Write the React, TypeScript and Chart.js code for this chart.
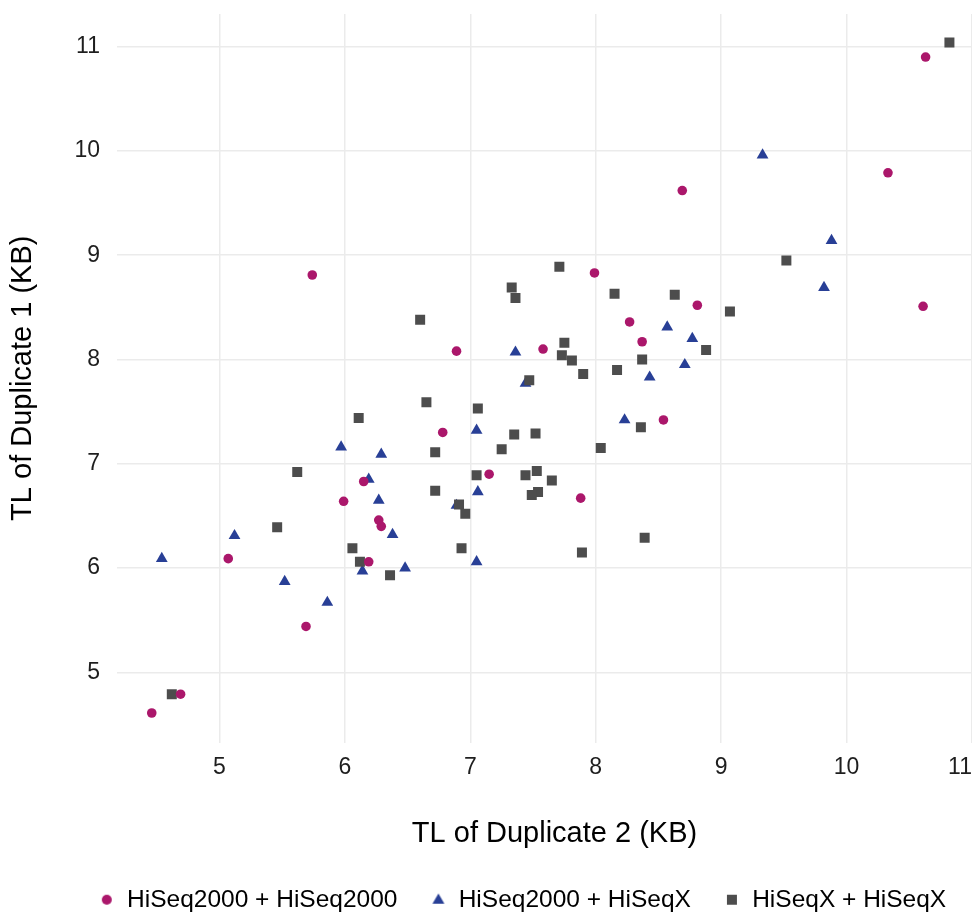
import React, { useEffect, useRef } from 'react';
import { Chart, registerables } from 'chart.js';

Chart.register(...registerables);

const SERIES_NAMES = ['HiSeq2000 + HiSeq2000', 'HiSeq2000 + HiSeqX', 'HiSeqX + HiSeqX'];
const X_TITLE = 'TL of Duplicate 2 (KB)';
const Y_TITLE = 'TL of Duplicate 1 (KB)';

const X_TICKS = [5, 6, 7, 8, 9, 10, 11];
const Y_TICKS = [5, 6, 7, 8, 9, 10, 11];
const X_MIN = 4.183;
const X_MAX = 11;
const Y_MIN = 4.327;
const Y_MAX = 11.313;

// HiSeq2000 + HiSeq2000 (circles)
const hs2000X = [10.63, 10.33, 8.69, 5.74, 7.99, 10.61, 8.81, 8.27, 8.37, 7.58, 6.89, 8.54, 6.78, 7.15, 7.88, 6.15, 5.99, 6.27, 6.29, 5.07, 6.19, 5.69, 4.69, 4.46];
const hs2000Y = [10.90, 9.79, 9.62, 8.81, 8.83, 8.51, 8.52, 8.36, 8.17, 8.10, 8.08, 7.42, 7.30, 6.90, 6.67, 6.83, 6.64, 6.46, 6.40, 6.09, 6.06, 5.44, 4.79, 4.61];

// HiSeq2000 + HiSeqX (triangles)
const mixedX = [9.33, 9.88, 9.82, 8.57, 8.77, 7.36, 8.71, 8.43, 7.44, 8.23, 7.05, 7.06, 7.05, 6.89, 6.27, 6.38, 5.12, 4.54, 6.48, 6.14, 5.52, 5.86, 5.97, 6.29, 6.19];
const mixedY = [9.96, 9.14, 8.69, 8.31, 8.20, 8.07, 7.95, 7.83, 7.77, 7.42, 7.32, 6.73, 6.06, 6.60, 6.65, 6.32, 6.31, 6.09, 6.00, 5.97, 5.87, 5.67, 7.16, 7.09, 6.85];

// HiSeqX + HiSeqX (squares)
const hsxX = [10.82, 9.52, 7.71, 7.33, 7.36, 8.15, 8.63, 9.07, 7.75, 7.73, 7.81, 8.37, 8.88, 7.90, 8.17, 7.47, 7.06, 7.35, 7.52, 7.25, 8.36, 8.04, 6.72, 7.05, 7.44, 7.53, 7.65, 7.54, 7.49, 6.91, 6.96, 8.39, 6.93, 7.89, 6.60, 6.65, 6.11, 5.62, 6.72, 5.46, 6.06, 6.12, 6.36, 4.62];
const hsxY = [11.04, 8.95, 8.89, 8.69, 8.59, 8.63, 8.62, 8.46, 8.16, 8.04, 7.99, 8.00, 8.09, 7.86, 7.90, 7.80, 7.53, 7.28, 7.29, 7.14, 7.35, 7.15, 7.11, 6.89, 6.89, 6.93, 6.84, 6.73, 6.70, 6.61, 6.52, 6.29, 6.19, 6.15, 8.38, 7.59, 7.44, 6.92, 6.74, 6.39, 6.19, 6.06, 5.93, 4.79];

const COLORS = ['#AB176B', '#283F96', '#4D4D4D'];
const POINT_STYLES = ['circle', 'triangle', 'rect'];
const POINT_RADII = [4.8, 6.8, 7.07];
const GRID = '#EBEBEB';
const FONT = "'Liberation Sans', Arial, Helvetica, sans-serif";

const toPoints = (xs: number[], ys: number[]) => xs.map((x, i) => ({ x, y: ys[i] }));

const zeroPad = (scale: any) => {
  scale.paddingTop = 0;
  scale.paddingBottom = 0;
  scale.paddingLeft = 0;
  scale.paddingRight = 0;
};

// small canvases used as legend markers, so each keeps its own size
const makeIcon = (i: number) => {
  const c = document.createElement('canvas');
  c.width = 16;
  c.height = 16;
  const ctx = c.getContext('2d') as CanvasRenderingContext2D;
  ctx.fillStyle = COLORS[i];
  ctx.beginPath();
  if (i === 0) {
    ctx.arc(8, 8, 5, 0, Math.PI * 2);
  } else if (i === 1) {
    const r = 6.9;
    for (let k = 0; k < 3; k++) {
      const a = (k * 2 * Math.PI) / 3;
      const px = 8 + Math.sin(a) * r;
      const py = 8.6 - Math.cos(a) * r;
      if (k === 0) ctx.moveTo(px, py);
      else ctx.lineTo(px, py);
    }
    ctx.closePath();
  } else {
    ctx.rect(3, 3, 10, 10);
  }
  ctx.fill();
  return c;
};

const legendShift = {
  id: 'legendShift',
  afterLayout(chart: any) {
    if (chart.legend) {
      chart.legend.left = 0;
      chart.legend.right = 1045;
    }
    const xs = chart.scales.x;
    if (xs) {
      xs.right = xs.right + 20;
    }
  },
};

export default function App() {
  const ref = useRef<HTMLCanvasElement | null>(null);

  useEffect(() => {
    document.body.style.margin = '0';
    const canvas = ref.current;
    if (!canvas) return;
    const icons = [0, 1, 2].map(makeIcon);
    const series = [
      [hs2000X, hs2000Y],
      [mixedX, mixedY],
      [hsxX, hsxY],
    ];
    const orders = [0, 2, 1];
    const chart = new Chart(canvas, {
      type: 'scatter',
      data: {
        datasets: series.map(([xs, ys], i) => ({
          label: SERIES_NAMES[i],
          data: toPoints(xs, ys),
          pointStyle: POINT_STYLES[i],
          pointRadius: POINT_RADII[i],
          pointHoverRadius: POINT_RADII[i],
          backgroundColor: COLORS[i],
          borderColor: COLORS[i],
          borderWidth: 0,
          order: orders[i],
        })),
      },
      options: {
        animation: false,
        responsive: false,
        events: [],
        layout: { padding: { top: 14, right: 0, bottom: -9, left: 0 }, autoPadding: false },
        font: { family: FONT },
        scales: {
          x: {
            type: 'linear',
            min: X_MIN,
            max: X_MAX,
            afterBuildTicks: (scale: any) => {
              scale.ticks = [X_MIN, ...X_TICKS].map((v) => ({ value: v }));
            },
            afterFit: (scale: any) => {
              scale.height = 112;
              zeroPad(scale);
            },
            border: { display: false },
            grid: {
              drawTicks: false,
              lineWidth: 1.5,
              color: (ctx: any) => (X_TICKS.includes(ctx.tick?.value) ? GRID : 'rgba(0,0,0,0)'),
            },
            ticks: {
              align: 'inner',
              padding: 11,
              color: '#1E1E1E',
              font: { family: FONT, size: 23 },
              maxRotation: 0,
              autoSkip: false,
              callback: (v: any) => (X_TICKS.includes(v) ? String(v) : ''),
            },
            title: {
              display: true,
              text: X_TITLE,
              color: '#000000',
              font: { family: FONT, size: 29 },
              padding: { top: 0, bottom: 3 },
            },
          },
          y: {
            type: 'linear',
            min: Y_MIN,
            max: Y_MAX,
            afterBuildTicks: (scale: any) => {
              scale.ticks = Y_TICKS.map((v) => ({ value: v }));
            },
            afterFit: (scale: any) => {
              scale.width = 117;
              zeroPad(scale);
            },
            border: { display: false },
            grid: {
              drawTicks: false,
              lineWidth: 1.5,
              color: (ctx: any) => (Y_TICKS.includes(ctx.tick?.value) ? GRID : 'rgba(0,0,0,0)'),
            },
            ticks: {
              padding: 17,
              color: '#1E1E1E',
              font: { family: FONT, size: 23 },
              autoSkip: false,
              callback: (v: any) => (Y_TICKS.includes(v) ? String(v) : ''),
            },
            title: {
              display: true,
              text: Y_TITLE,
              color: '#000000',
              font: { family: FONT, size: 29 },
              padding: { top: 6, bottom: 0 },
            },
          },
        },
        plugins: {
          tooltip: { enabled: false },
          legend: {
            display: true,
            position: 'bottom',
            labels: {
              usePointStyle: true,
              boxWidth: 16,
              boxHeight: 10,
              padding: 33,
              color: '#000000',
              font: { family: FONT, size: 24.5 },
              sort: (a: any, b: any) => a.datasetIndex - b.datasetIndex,
              generateLabels: (ch: any) => {
                const items = (Chart as any).defaults.plugins.legend.labels.generateLabels(ch);
                items.forEach((it: any) => {
                  it.pointStyle = icons[it.datasetIndex];
                });
                return items;
              },
            },
          },
        },
      },
      plugins: [legendShift],
    } as any);
    return () => chart.destroy();
  }, []);

  return (
    <div style={{ width: 972, height: 913, overflow: 'hidden' }}>
      <canvas ref={ref} width={972} height={913} style={{ display: 'block', width: 972, height: 913 }} />
    </div>
  );
}
